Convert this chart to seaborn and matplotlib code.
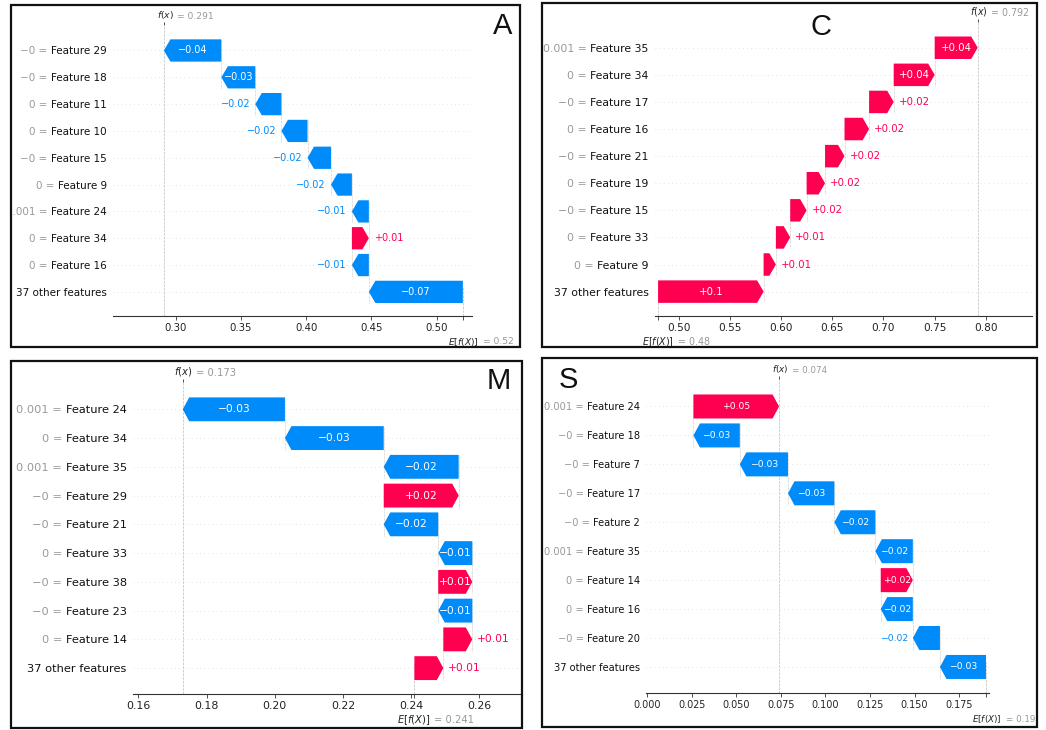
import re
import matplotlib
matplotlib.use("Agg")
import matplotlib.pyplot as plt
from matplotlib.patches import Rectangle
from matplotlib.ticker import MultipleLocator
import seaborn as sns

# ---- data (top row first) ----
a_features = ["Feature 29", "Feature 18", "Feature 11", "Feature 10", "Feature 15",
              "Feature 9", "Feature 24", "Feature 34", "Feature 16", "37 other features"]
a_values = ["\u22120", "\u22120", "0", "0", "\u22120", "0", "0.001", "0", "0", ""]
a_shap = [-0.044, -0.026, -0.020, -0.020, -0.018, -0.016, -0.013, 0.013, -0.013, -0.072]
a_base = 0.520

c_features = ["Feature 35", "Feature 34", "Feature 17", "Feature 16", "Feature 21",
              "Feature 19", "Feature 15", "Feature 33", "Feature 9", "37 other features"]
c_values = ["0.001", "0", "\u22120", "0", "\u22120", "0", "\u22120", "0", "0", ""]
c_shap = [0.042, 0.040, 0.024, 0.024, 0.019, 0.018, 0.016, 0.014, 0.012, 0.103]
c_base = 0.480

m_features = ["Feature 24", "Feature 34", "Feature 35", "Feature 29", "Feature 21",
              "Feature 33", "Feature 38", "Feature 23", "Feature 14", "37 other features"]
m_values = ["0.001", "0", "0.001", "\u22120", "\u22120", "0", "\u22120", "\u22120", "0", ""]
m_shap = [-0.030, -0.029, -0.022, 0.022, -0.016, -0.010, 0.010, -0.010, 0.0085, 0.0085]
m_base = 0.241

s_features = ["Feature 24", "Feature 18", "Feature 7", "Feature 17", "Feature 2",
              "Feature 35", "Feature 14", "Feature 16", "Feature 20", "37 other features"]
s_values = ["0.001", "\u22120", "\u22120", "\u22120", "\u22120", "0.001", "0", "0", "\u22120", ""]
s_shap = [0.048, -0.026, -0.027, -0.026, -0.023, -0.021, 0.018, -0.018, -0.0152, -0.0258]
s_base = 0.190

RED, BLUE = "#ff0051", "#008bfb"
W, H = 1046, 730

sns.set_theme(style="white")
plt.rcParams["font.family"] = ["DejaVu Sans"]

fig = plt.figure(figsize=(W / 100, H / 100), dpi=100)
fig.patch.set_facecolor("white")
renderer = fig.canvas.get_renderer()


def fmt(v, f):
    # shap style: strip trailing zeros, use a real minus sign
    s = re.sub(r"\.?0+$", "", f % v)
    return "\u2212" + s[1:] if s[0] == "-" else s


def px_rect(l, t, r, b):
    return [l / W, 1 - b / H, (r - l) / W, (b - t) / H]


def waterfall(box, axes_px, xlim, step, letter, letter_xy, k, feats, vals, shap, base):
    # k = font scale of this panel (the four pictures were pasted at slightly different sizes)
    fs_lab, fs_tick, fs_bar, fs_fx = 7.5 * k, 7.3 * k, 7.0 * k, 6.6 * k

    frame = Rectangle(px_rect(*box)[:2], *px_rect(*box)[2:], transform=fig.transFigure,
                      fill=False, ec="#111111", lw=1.6)
    fig.add_artist(frame)
    fig.text(letter_xy[0] / W, 1 - letter_xy[1] / H, letter, ha="center", va="center",
             fontsize=21, family=["Liberation Sans", "DejaVu Sans"], color="#111111")

    ax = fig.add_axes(px_rect(*axes_px))
    n = len(shap)
    rows = list(range(n - 1, -1, -1))
    ax.set_xlim(*xlim)
    ax.set_ylim(-0.9, n - 0.05)
    fx = base + sum(shap)

    xper_px = (xlim[1] - xlim[0]) / ax.get_window_extent(renderer).width
    hl = 6.5 * xper_px
    bar_h = 0.83

    for r in rows:
        ax.axhline(r, color="#cccccc", lw=0.5, dashes=(1, 5), zorder=-1)
    ax.axvline(base, 0, 1 / n, color="#bbbbbb", ls="--", lw=0.5, zorder=-1)
    ax.axvline(fx, 0, 1, color="#bbbbbb", ls="--", lw=0.5, zorder=-1)

    loc = fx
    for i, v in enumerate(shap):
        y = rows[i]
        start = loc - v
        dist = abs(v)
        sign = 1 if v > 0 else -1
        color = RED if v > 0 else BLUE
        arr = ax.arrow(start, y, sign * max(dist - hl, 1e-6), 0, width=bar_h,
                       head_width=bar_h, head_length=min(dist, hl), color=color, lw=0)
        if i < n - 1:
            ax.plot([start, start], [y - 1 - 0.4, y + 0.4], color="#bbbbbb",
                    lw=0.5, dashes=(1, 1), zorder=-1)
        label = fmt(v, "%+0.02f")
        t = ax.text(start + v / 2, y, label, ha="center", va="center",
                    color="white", fontsize=fs_bar)
        if t.get_window_extent(renderer).width > arr.get_window_extent(renderer).width:
            t.remove()
            ax.annotate(label, xy=(loc, y), xytext=(5 * sign, 0), textcoords="offset pixels",
                        ha="left" if v > 0 else "right", va="center",
                        color=color, fontsize=fs_bar)
        loc = start

    # y labels: feature name in black, "value =" in gray to its left
    pad_pt = 4.5
    ax.set_yticks(rows, feats)
    ax.tick_params(axis="y", length=0, pad=pad_pt, labelsize=fs_lab, labelcolor="#111111")
    for tick in ax.yaxis.get_major_ticks():
        tick.label1.set_clip_path(frame)
    for y, name, val in zip(rows, feats, vals):
        if not val:
            continue
        tmp = ax.text(0, 0, name + " ", fontsize=fs_lab)
        w = tmp.get_window_extent(renderer).width
        tmp.remove()
        pre = ax.annotate(val + " =", xy=(0, y), xycoords=("axes fraction", "data"),
                          xytext=(-(pad_pt * 100 / 72 + w), 0), textcoords="offset pixels",
                          ha="right", va="center_baseline", fontsize=fs_lab, color="#999999")
        pre.set_clip_path(frame)

    ax.xaxis.set_major_locator(MultipleLocator(step))
    ax.set_xticks([base], minor=True)
    ax.tick_params(axis="x", which="both", bottom=True, length=3, width=0.6,
                   color="#333333", labelsize=fs_tick, pad=2, labelcolor="#222222")
    sns.despine(ax=ax, left=True)
    ax.spines["bottom"].set_color("#333333")
    ax.spines["bottom"].set_linewidth(0.8)

    # f(x) marker on top
    top = ax.twiny()
    top.set_xlim(*xlim)
    top.set_xticks([fx], [""])
    top.tick_params(axis="x", top=True, length=2.5, width=0.6, color="#333333")
    for s in top.spines.values():
        s.set_visible(False)

    ax.annotate("$f(x)$", xy=(fx, 1), xycoords=("data", "axes fraction"), xytext=(9.5, 4),
                textcoords="offset pixels", ha="right", va="bottom", fontsize=fs_fx,
                color="#222222")
    ax.annotate("= " + fmt(fx, "%0.03f"), xy=(fx, 1), xycoords=("data", "axes fraction"),
                xytext=(13, 4), textcoords="offset pixels", ha="left", va="bottom",
                fontsize=fs_fx, color="#999999")
    ax.annotate("$E[f(X)]$", xy=(base, 0), xycoords=("data", "axes fraction"),
                xytext=(16, -26), textcoords="offset pixels", ha="right", va="center",
                fontsize=fs_fx, color="#222222")
    ax.annotate("= " + fmt(base, "%0.03f"), xy=(base, 0), xycoords=("data", "axes fraction"),
                xytext=(20, -26), textcoords="offset pixels", ha="left", va="center",
                fontsize=fs_fx, color="#999999")
    return ax


waterfall((11, 5, 520, 347), (113, 25, 472, 316), (0.252, 0.527), 0.05, "A", (503, 26), 1.0,
          a_features, a_values, a_shap, a_base)
waterfall((542, 3, 1037, 347), (655, 22, 1032, 316), (0.477, 0.845), 0.05, "C", (821, 27), 1.04,
          c_features, c_values, c_shap, c_base)
waterfall((11, 361, 522, 728), (133, 382, 520, 694), (0.1584, 0.272), 0.02, "M", (499, 381), 1.09,
          m_features, m_values, m_shap, m_base)
waterfall((542, 358, 1037, 727), (646, 379, 989, 693), (-0.0006, 0.1917), 0.025, "S", (568, 380), 0.95,
          s_features, s_values, s_shap, s_base)

fig.savefig("out.png", dpi=100)
